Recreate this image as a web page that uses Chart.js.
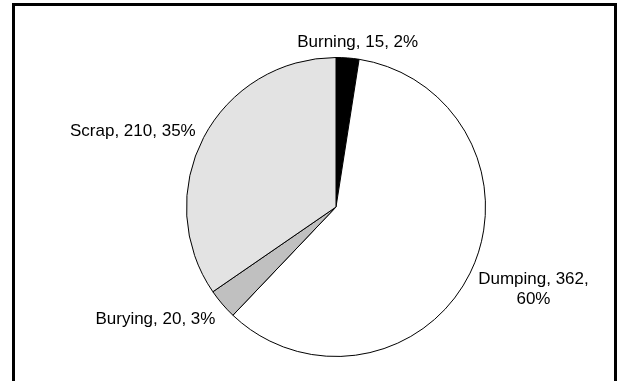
<!DOCTYPE html>
<html>
<head>
<meta charset="utf-8">
<script src="https://cdn.jsdelivr.net/npm/chart.js@4.4.0/dist/chart.umd.min.js"></script>
<style>
  html, body { margin: 0; padding: 0; background: #fff; }
  #wrap { position: relative; width: 618px; height: 381px; }
</style>
</head>
<body>
<div id="wrap"><canvas id="pie-chart" width="618" height="381"></canvas></div>
<script>
var categories = ["Burning", "Dumping", "Burying", "Scrap"];
var values = [15, 362, 20, 210];
var sliceColors = ["#000000", "#ffffff", "#c0c0c0", "#e3e3e3"];

var FONT = "17px 'Liberation Sans', Arial, sans-serif";
var LINE_H = 20;

// black frame round the chart (its bottom edge runs off the picture)
var framePlugin = {
  id: "frame",
  beforeDraw: function(chart) {
    var ctx = chart.ctx;
    ctx.save();
    ctx.fillStyle = "#fff";
    ctx.fillRect(0, 0, chart.width, chart.height);
    ctx.strokeStyle = "#000";
    ctx.lineWidth = 3;
    ctx.strokeRect(13.5, 4.5, 602, 420);
    ctx.restore();
  }
};

// "Name, value, pct%" labels just outside each slice
var labelPlugin = {
  id: "outsideLabels",
  afterDatasetsDraw: function(chart) {
    var ctx = chart.ctx;
    var meta = chart.getDatasetMeta(0);
    var data = chart.data.datasets[0].data;
    var total = data.reduce(function(a, b) { return a + b; }, 0);
    ctx.save();
    ctx.font = FONT;
    ctx.fillStyle = "#000";
    ctx.textBaseline = "middle";
    meta.data.forEach(function(arc, i) {
      var p = arc.getProps(["x", "y", "startAngle", "endAngle", "outerRadius"], true);
      var mid = (p.startAngle + p.endAngle) / 2;
      var cos = Math.cos(mid), sin = Math.sin(mid);
      var r = p.outerRadius + 9;
      var px = p.x + cos * r;
      var py = p.y + sin * r;
      var pct = Math.round(data[i] / total * 100);
      var full = chart.data.labels[i] + ", " + data[i] + ", " + pct + "%";

      var align = cos > 0.3 ? "left" : (cos < -0.3 ? "right" : "center");
      var room = align === "left" ? (600 - px) : (align === "right" ? (px - 25) : 400);
      var lines = [full];
      if (ctx.measureText(full).width > room) {
        lines = [chart.data.labels[i] + ", " + data[i] + ",", pct + "%"];
      }
      var w = 0;
      lines.forEach(function(l) { w = Math.max(w, ctx.measureText(l).width); });
      var h = lines.length * LINE_H;

      var cx;
      if (align === "left") cx = px + w / 2;
      else if (align === "right") cx = px - w / 2;
      else cx = px + cos * w;
      var cy = py + sin * h / 2 + 3;

      ctx.textAlign = "center";
      lines.forEach(function(l, k) {
        ctx.fillText(l, cx, cy - h / 2 + LINE_H * (k + 0.5));
      });
    });
    ctx.restore();
  }
};

var ctx = document.getElementById("pie-chart").getContext("2d");
var pieChart = new Chart(ctx, {
  type: "pie",
  data: {
    labels: categories,
    datasets: [{
      data: values,
      backgroundColor: sliceColors,
      borderColor: "#000",
      borderWidth: 1,
      hoverOffset: 0
    }]
  },
  options: {
    responsive: false,
    animation: false,
    events: [],
    layout: { padding: { left: 186, right: 132, top: 57, bottom: 24 } },
    plugins: {
      legend: { display: false },
      tooltip: { enabled: false }
    }
  },
  plugins: [framePlugin, labelPlugin]
});
</script>
</body>
</html>
